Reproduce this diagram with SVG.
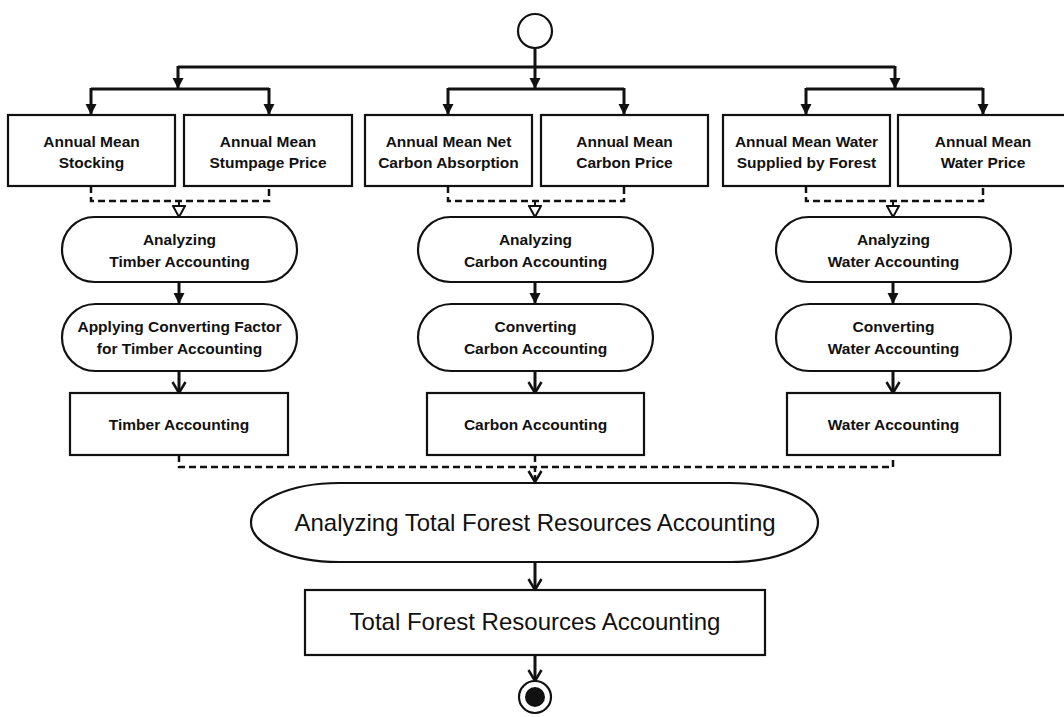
<svg xmlns="http://www.w3.org/2000/svg" width="1064" height="717" viewBox="0 0 1064 717">
<defs>
<style>
.box{fill:#fff;stroke:#111;stroke-width:2.2}
.t{font-family:"Liberation Sans",Arial,sans-serif;font-weight:bold;font-size:15.5px;fill:#111;text-anchor:middle}
.tb{font-family:"Liberation Sans",Arial,sans-serif;font-size:24px;fill:#111;text-anchor:middle}
.c{fill:none;stroke:#111;stroke-width:3}
.d{fill:none;stroke:#111;stroke-width:2.5;stroke-dasharray:7 4}
</style>
<marker id="af" markerUnits="userSpaceOnUse" markerWidth="12" markerHeight="12" refX="11" refY="6" orient="auto">
<path d="M0,0.5 L11,6 L0,11.5 z" fill="#111"/>
</marker>
<marker id="av" markerUnits="userSpaceOnUse" markerWidth="14" markerHeight="16" refX="12" refY="8" orient="auto">
<path d="M1,1.5 L12,8 L1,14.5" fill="none" stroke="#111" stroke-width="2.5"/>
</marker>
<marker id="at" markerUnits="userSpaceOnUse" markerWidth="14" markerHeight="14" refX="12" refY="7" orient="auto">
<path d="M1,1 L12,7 L1,13 z" fill="#fff" stroke="#111" stroke-width="2"/>
</marker>
</defs>
<rect width="1064" height="717" fill="#fff"/>

<g id="connectors">
<path class="c" d="M535,48 V67"/>
<path class="c" d="M178,67 H895"/>
<path class="c" d="M178,66 V89" marker-end="url(#af)"/>
<path class="c" d="M535,66 V89" marker-end="url(#af)"/>
<path class="c" d="M895,66 V89" marker-end="url(#af)"/>
<path class="c" d="M91,89 H269"/>
<path class="c" d="M91,88 V115" marker-end="url(#af)"/>
<path class="c" d="M269,88 V115" marker-end="url(#af)"/>
<path class="c" d="M448,89 H624"/>
<path class="c" d="M448,88 V115" marker-end="url(#af)"/>
<path class="c" d="M624,88 V115" marker-end="url(#af)"/>
<path class="c" d="M806,89 H983"/>
<path class="c" d="M806,88 V115" marker-end="url(#af)"/>
<path class="c" d="M983,88 V115" marker-end="url(#af)"/>
<path class="d" d="M91,186 V201 H269 V186"/>
<path class="d" d="M448,186 V201 H624 V186"/>
<path class="d" d="M806,186 V201 H983 V186"/>
<path fill="none" stroke="#111" stroke-width="2" d="M179,201 V217" marker-end="url(#at)"/>
<path fill="none" stroke="#111" stroke-width="2" d="M535,201 V217" marker-end="url(#at)"/>
<path fill="none" stroke="#111" stroke-width="2" d="M893,201 V217" marker-end="url(#at)"/>
<path class="c" d="M179,282 V304" marker-end="url(#af)"/>
<path class="c" d="M535,282 V304" marker-end="url(#af)"/>
<path class="c" d="M893,282 V304" marker-end="url(#af)"/>
<path class="c" d="M179,371 V393" marker-end="url(#av)"/>
<path class="c" d="M535,371 V393" marker-end="url(#av)"/>
<path class="c" d="M893,371 V393" marker-end="url(#av)"/>
<path class="d" d="M179,455 V467 H893 V455"/>
<path class="d" d="M535,455 V467"/>
<path fill="none" stroke="#111" stroke-width="2.5" stroke-dasharray="5 3" d="M535,467 V482" marker-end="url(#av)"/>
<path class="c" d="M535,562 V590" marker-end="url(#av)"/>
<path class="c" d="M535,655 V681" marker-end="url(#av)"/>
</g>

<g id="start"><circle cx="535" cy="31" r="17" fill="#fff" stroke="#111" stroke-width="2.2"/></g>

<g id="n1"><rect class="box" x="8" y="115" width="167" height="71"/><text class="t" x="91.5" y="147">Annual Mean</text><text class="t" x="91.5" y="168">Stocking</text></g>
<g id="n2"><rect class="box" x="184" y="115" width="168" height="71"/><text class="t" x="268" y="147">Annual Mean</text><text class="t" x="268" y="168">Stumpage Price</text></g>
<g id="n3"><rect class="box" x="365" y="115" width="167" height="71"/><text class="t" x="448.5" y="147">Annual Mean Net</text><text class="t" x="448.5" y="168">Carbon Absorption</text></g>
<g id="n4"><rect class="box" x="541" y="115" width="167" height="71"/><text class="t" x="624.5" y="147">Annual Mean</text><text class="t" x="624.5" y="168">Carbon Price</text></g>
<g id="n5"><rect class="box" x="723" y="115" width="167" height="71"/><text class="t" x="806.5" y="147">Annual Mean Water</text><text class="t" x="806.5" y="168">Supplied by Forest</text></g>
<g id="n6"><rect class="box" x="898" y="115" width="172" height="71"/><text class="t" x="983" y="147">Annual Mean</text><text class="t" x="983" y="168">Water Price</text></g>

<g id="a1"><rect class="box" x="62" y="217" width="235" height="65" rx="32.5"/><text class="t" x="179.5" y="244.5">Analyzing</text><text class="t" x="179.5" y="266.5">Timber Accounting</text></g>
<g id="a2"><rect class="box" x="418" y="217" width="235" height="65" rx="32.5"/><text class="t" x="535.5" y="244.5">Analyzing</text><text class="t" x="535.5" y="266.5">Carbon Accounting</text></g>
<g id="a3"><rect class="box" x="776" y="217" width="235" height="65" rx="32.5"/><text class="t" x="893.5" y="244.5">Analyzing</text><text class="t" x="893.5" y="266.5">Water Accounting</text></g>

<g id="c1"><rect class="box" x="62" y="304" width="235" height="67" rx="33.5"/><text class="t" x="179.5" y="332">Applying Converting Factor</text><text class="t" x="179.5" y="354">for Timber Accounting</text></g>
<g id="c2"><rect class="box" x="418" y="304" width="235" height="67" rx="33.5"/><text class="t" x="535.5" y="332">Converting</text><text class="t" x="535.5" y="354">Carbon Accounting</text></g>
<g id="c3"><rect class="box" x="776" y="304" width="235" height="67" rx="33.5"/><text class="t" x="893.5" y="332">Converting</text><text class="t" x="893.5" y="354">Water Accounting</text></g>

<g id="r1"><rect class="box" x="70" y="393" width="218" height="62"/><text class="t" x="179" y="429.5">Timber Accounting</text></g>
<g id="r2"><rect class="box" x="427" y="393" width="217" height="62"/><text class="t" x="535.5" y="429.5">Carbon Accounting</text></g>
<g id="r3"><rect class="box" x="787" y="393" width="213" height="62"/><text class="t" x="893.5" y="429.5">Water Accounting</text></g>

<g id="total-analysis"><rect class="box" x="251" y="483" width="567" height="79" rx="88" ry="39.5"/><text class="tb" x="535" y="531">Analyzing Total Forest Resources Accounting</text></g>
<g id="total"><rect class="box" x="305" y="590" width="460" height="65"/><text class="tb" x="535" y="630">Total Forest Resources Accounting</text></g>

<g id="end"><circle cx="535" cy="697" r="16" fill="#fff" stroke="#111" stroke-width="2.2"/><circle cx="535" cy="697" r="10" fill="#111"/></g>
</svg>
